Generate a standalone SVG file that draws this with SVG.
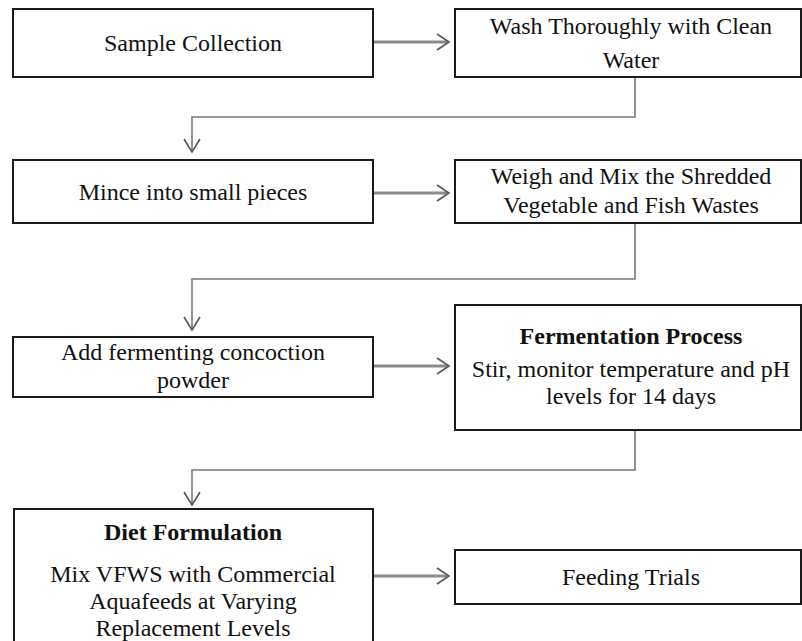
<svg xmlns="http://www.w3.org/2000/svg" width="802" height="641" viewBox="0 0 802 641">
<defs>
<style>
.box{fill:#fff;stroke:#1a1a1a;stroke-width:2}
.t{font-family:"Liberation Serif","Times New Roman",serif;font-size:24px;fill:#111;text-anchor:middle}
.b{font-weight:bold}
.h{fill:none;stroke:#8a8a8a;stroke-width:3}
.e{fill:none;stroke:#7a7a7a;stroke-width:1.6}
.ah{fill:none;stroke:#555;stroke-width:1.6}
</style>
</defs>
<rect width="802" height="641" fill="#fff"/>
<g id="connectors">
<path class="h" d="M373 42H447"/><path class="ah" d="M437 34L449 42L437 50"/>
<path class="e" d="M635 77V117H192V152"/><path class="ah" d="M184 139L192 152L200 139"/>
<path class="h" d="M373 193H447"/><path class="ah" d="M437 185L449 193L437 201"/>
<path class="e" d="M635 223V279H192V330"/><path class="ah" d="M184 317L192 330L200 317"/>
<path class="h" d="M373 366H447"/><path class="ah" d="M437 358L449 366L437 374"/>
<path class="e" d="M635 430V470H192V505"/><path class="ah" d="M184 492L192 505L200 492"/>
<path class="h" d="M373 576H447"/><path class="ah" d="M437 568L449 576L437 584"/>
</g>
<g id="n1"><rect class="box" x="13" y="9" width="360" height="68"/><text class="t" x="193" y="51">Sample Collection</text></g>
<g id="n2"><rect class="box" x="455" y="9" width="346" height="68"/><text class="t" x="631" y="34">Wash Thoroughly with Clean</text><text class="t" x="631" y="68">Water</text></g>
<g id="n3"><rect class="box" x="13" y="160" width="360" height="63"/><text class="t" x="193" y="200">Mince into small pieces</text></g>
<g id="n4"><rect class="box" x="455" y="160" width="346" height="63"/><text class="t" x="631" y="184">Weigh and Mix the Shredded</text><text class="t" x="631" y="213">Vegetable and Fish Wastes</text></g>
<g id="n5"><rect class="box" x="13" y="337" width="360" height="60"/><text class="t" x="193" y="360">Add fermenting concoction</text><text class="t" x="193" y="388">powder</text></g>
<g id="n6"><rect class="box" x="455" y="305" width="346" height="125"/><text class="t b" x="631" y="344">Fermentation Process</text><text class="t" x="631" y="377">Stir, monitor temperature and pH</text><text class="t" x="631" y="404">levels for 14 days</text></g>
<g id="n7"><rect class="box" x="14" y="509" width="359" height="140"/><text class="t b" x="193" y="540">Diet Formulation</text><text class="t" x="193" y="582">Mix VFWS with Commercial</text><text class="t" x="193" y="609">Aquafeeds at Varying</text><text class="t" x="193" y="636">Replacement Levels</text></g>
<g id="n8"><rect class="box" x="455" y="550" width="346" height="54"/><text class="t" x="631" y="585">Feeding Trials</text></g>
</svg>
